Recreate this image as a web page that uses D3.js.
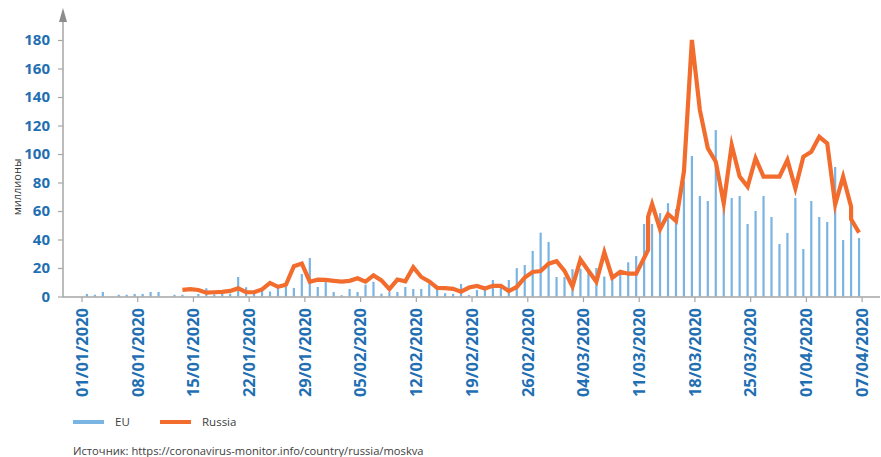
<!DOCTYPE html>
<html>
<head>
<meta charset="utf-8">
<script src="https://cdn.jsdelivr.net/npm/d3@7"></script>
<style>
  body { margin: 0; background: #fff; }
  svg text { font-family: "Open Sans", sans-serif; }
</style>
</head>
<body>
<div id="chart"></div>
<script>
// подписи оси X (каждые 7 позиций)
var tickLabels = ["01/01/2020", "08/01/2020", "15/01/2020", "22/01/2020", "29/01/2020",
  "05/02/2020", "12/02/2020", "19/02/2020", "26/02/2020", "04/03/2020",
  "11/03/2020", "18/03/2020", "25/03/2020", "01/04/2020", "07/04/2020"];

var yTicks = [0, 20, 40, 60, 80, 100, 120, 140, 160, 180];

// EU, по дням начиная с 01/01
var euValues = [1.8, 1.2, 3.2, 0, 1.2, 1.2, 1.8, 1.8, 3.2, 3.2,
  0, 1.2, 1.2, 0, 1.8, 5.8, 1.5, 2.0, 2.0, 13.7,
  6.5, 2.8, 4.5, 3.5, 5.9, 6.8, 6.0, 15.8, 27.0, 6.7,
  10.2, 3.2, 0.9, 5.3, 3.2, 8.3, 10.3, 2.0, 3.2, 3.2,
  6.7, 5.3, 5.3, 8.8, 4.6, 2.3, 1.8, 8.8, 1.0, 4.6,
  6.9, 11.6, 6.7, 11.6, 19.9, 22.1, 32.0, 44.8, 38.3, 13.7,
  13.7, 19.2, 19.5, 17.0, 20.0, 14.0, 12.0, 15.7, 24.0, 28.4,
  50.9, 50.9, 58.5, 65.5, 61.4, 81.0, 98.6, 70.5, 67.0, 116.8,
  61.4, 69.1, 70.5, 50.9, 60.0, 70.5, 55.8, 36.8, 44.6, 69.1,
  33.3, 67.0, 55.8, 52.3, 90.9, 39.6, 54.4, 41.0];

// Russia: [день, значение]
var russia = [[12, 4.6], [13, 5.2], [14, 4.6], [15, 2.7], [16, 3.0], [17, 3.3], [18, 3.9],
  [19, 5.7], [20, 3.0], [21, 3.0], [22, 5.0], [23, 9.5], [24, 6.8], [25, 8.2], [26, 21.2],
  [27, 23.1], [28, 10.4], [29, 11.8], [30, 11.6], [31, 11.0], [32, 10.5], [33, 11.0],
  [34, 12.8], [35, 10.4], [36, 14.8], [37, 11.3], [38, 5.2], [39, 11.9], [40, 10.6],
  [41, 20.5], [42, 13.7], [43, 10.6], [44, 6.0], [45, 5.9], [46, 5.4], [47, 3.4], [48, 6.3],
  [49, 7.4], [50, 5.6], [51, 7.5], [52, 7.5], [53, 3.8], [54, 6.7], [55, 13.3], [56, 17.2],
  [57, 17.9], [58, 23.0], [59, 24.8], [60, 18.0], [61, 6.9], [62, 26.0], [63, 18.1],
  [64, 10.4], [65, 31.0], [66, 13.2], [67, 17.4], [68, 16.0], [69, 16.0], [70.5, 32.6],
  [70.5, 56.0], [71, 64.9], [72, 47.2], [73, 57.9], [74, 53.0], [75, 87.6], [76, 180],
  [77, 131], [78, 104], [79, 94.6], [80, 65.4], [81, 106.3], [82, 84.1], [83, 77.1],
  [84, 97.0], [85, 84.1], [86, 84.1], [87, 84.1], [88, 95.8], [89, 75.9], [90, 98.1],
  [91, 101.6], [92, 112.1], [93, 107.5], [94, 64.5], [95, 84.1], [96, 63.0], [96, 54.2],
  [97, 44.8]];

var blue = "#7ab4e3", orange = "#f26d2d", labelBlue = "#1f6fb2", axisGrey = "#a6a6a6";

var svg = d3.select("#chart").append("svg").attr("width", 881).attr("height", 457);

var x = d3.scaleLinear().domain([0, 98]).range([81.5, 861.6]),
    y = d3.scaleLinear().domain([0, 180]).range([296.5, 40]),
    shift = 0.68;

// бары EU
svg.append("g").selectAll("rect")
  .data(euValues)
  .enter().append("rect")
    .attr("x", function(d, i) { return x(i + shift) - 1.1; })
    .attr("width", 2.2)
    .attr("y", function(d) { return y(d); })
    .attr("height", function(d) { return y(0) - y(d); })
    .attr("fill", blue);

// ось Y
var yAxis = svg.append("g")
    .attr("transform", "translate(63,0)")
    .call(d3.axisLeft(y).tickValues(yTicks).tickSize(5).tickPadding(8));
yAxis.select(".domain").remove();
yAxis.selectAll(".tick line").attr("stroke", axisGrey).attr("stroke-width", 1.2);
yAxis.selectAll("text")
    .attr("fill", labelBlue)
    .style("font-size", "15px")
    .style("font-weight", "bold");
svg.append("line")
    .attr("x1", 63).attr("x2", 63).attr("y1", y(0) + 0.5).attr("y2", 20)
    .attr("stroke", axisGrey).attr("stroke-width", 1.5);
svg.append("path")
    .attr("d", "M63,8 L59,22 L67,22 Z")
    .attr("fill", "#8c8c8c");

svg.append("text")
    .attr("transform", "translate(21,187) rotate(-90)")
    .attr("text-anchor", "middle")
    .style("font-size", "11px")
    .attr("fill", "#333")
    .text("миллионы");

// ось X
var xAxis = svg.append("g")
    .attr("transform", "translate(0," + (y(0) + 0.5) + ")")
    .call(d3.axisBottom(x)
      .tickValues(d3.range(0, 99, 7))
      .tickFormat(function(d) { return tickLabels[d / 7]; })
      .tickSize(5));
xAxis.select(".domain").remove();
xAxis.selectAll(".tick line").attr("stroke", axisGrey).attr("stroke-width", 1.2);
xAxis.selectAll("text")
    .attr("fill", labelBlue)
    .style("font-size", "16.5px")
    .style("font-weight", "bold")
    .attr("text-anchor", "end")
    .attr("transform", "rotate(-90)")
    .attr("x", -11)
    .attr("y", 0)
    .attr("dy", "0.35em");
svg.append("line")
    .attr("x1", 63).attr("x2", 880).attr("y1", y(0) + 0.5).attr("y2", y(0) + 0.5)
    .attr("stroke", axisGrey).attr("stroke-width", 1.5);

// линия Russia
var line = d3.line()
    .x(function(d) { return x(d[0] + shift); })
    .y(function(d) { return y(d[1]); });

svg.append("path")
    .datum(russia)
    .attr("d", line)
    .attr("fill", "none")
    .attr("stroke", orange)
    .attr("stroke-width", 4.2)
    .attr("stroke-linejoin", "miter")
    .attr("stroke-miterlimit", 10);

// легенда
var legend = [["EU", blue, 73], ["Russia", orange, 160]];
var lg = svg.append("g").selectAll("g")
  .data(legend)
  .enter().append("g")
    .attr("transform", function(d) { return "translate(" + d[2] + ",422)"; });
lg.append("line")
    .attr("x1", 0).attr("x2", 31)
    .attr("stroke", function(d) { return d[1]; })
    .attr("stroke-width", 4);
lg.append("text")
    .attr("x", 42).attr("dy", "0.35em")
    .style("font-size", "11.5px")
    .attr("fill", "#404040")
    .text(function(d) { return d[0]; });

svg.append("text")
    .attr("x", 73).attr("y", 455)
    .style("font-size", "11.2px")
    .attr("fill", "#404040")
    .text("Источник: https://coronavirus-monitor.info/country/russia/moskva");
</script>
</body>
</html>
